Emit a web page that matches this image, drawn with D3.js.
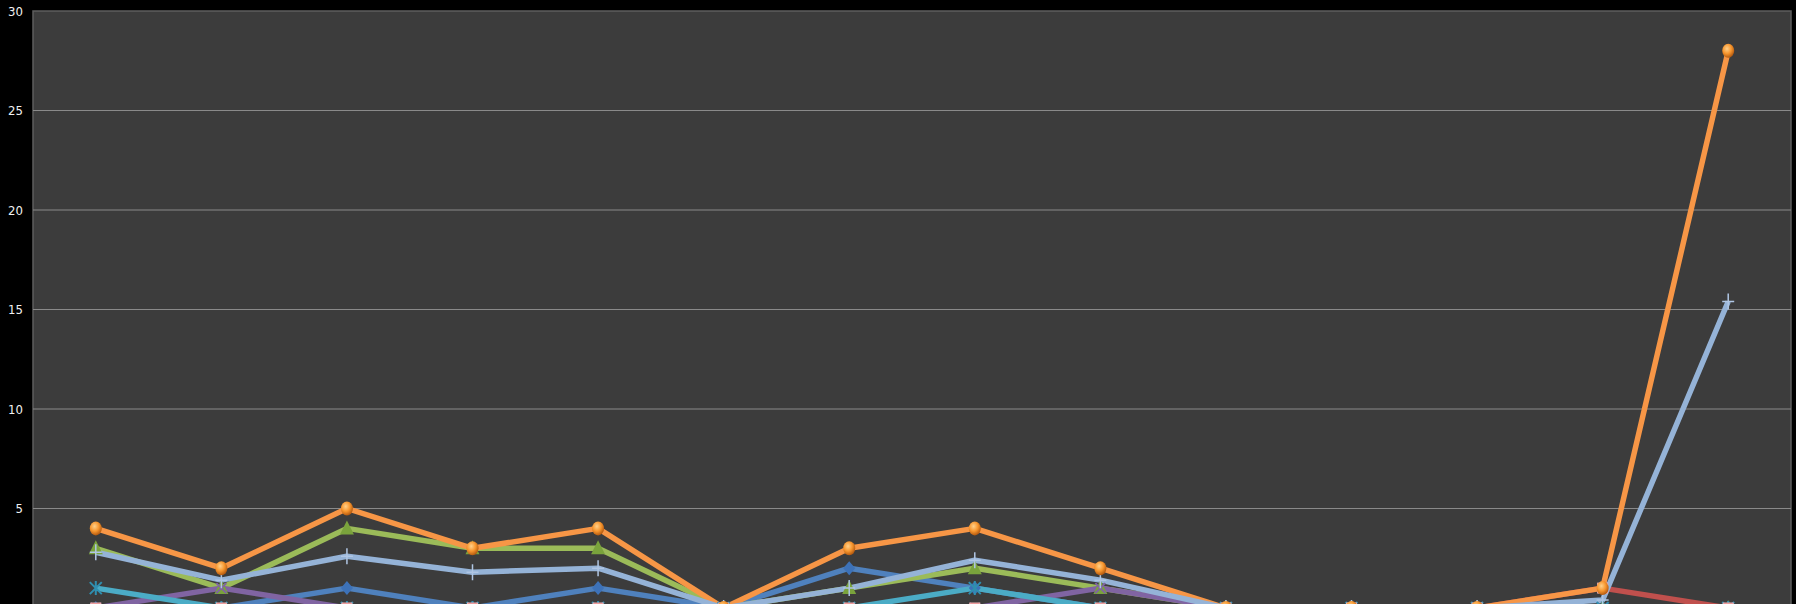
<!DOCTYPE html>
<html>
<head>
<meta charset="utf-8">
<script src="https://cdn.jsdelivr.net/npm/d3@7"></script>
<style>
  body { margin: 0; background: #000; }
  svg { display: block; }
</style>
</head>
<body>
<script>
// DATA
var categories = ["1","2","3","4","5","6","7","8","9","10","11","12","13","14"];
var y_ticks = [0, 5, 10, 15, 20, 25, 30];

var blue_values      = [0, 0, 1, 0, 1, 0, 2, 1, 0, 0, 0, 0, 0, 0];
var red_values       = [0, 0, 0, 0, 0, 0, 0, 0, 0, 0, 0, 0, 1, 0];
var green_values     = [3, 1, 4, 3, 3, 0, 1, 2, 1, 0, 0, 0, 0, 0];
var purple_values    = [0, 1, 0, 0, 0, 0, 0, 0, 1, 0, 0, 0, 0, 0];
var cyan_values      = [1, 0, 0, 0, 0, 0, 0, 1, 0, 0, 0, 0, 0, 0];
var orange_values    = [4, 2, 5, 3, 4, 0, 3, 4, 2, 0, 0, 0, 1, 28];
var lightblue_values = [2.8, 1.4, 2.6, 1.8, 2.0, 0, 1.0, 2.4, 1.4, 0, 0, 0, 0.4, 15.4];

var series = [
  {"name":"blue",      "values":blue_values,      "color":"#4f81bd", "marker":"diamond",  "z":1},
  {"name":"red",       "values":red_values,       "color":"#c0504d", "marker":"square",   "z":6},
  {"name":"green",     "values":green_values,     "color":"#9bbb59", "marker":"triangle", "z":2},
  {"name":"purple",    "values":purple_values,    "color":"#8064a2", "marker":"cross",    "z":3},
  {"name":"cyan",      "values":cyan_values,      "color":"#4bacc6", "marker":"star",     "z":4},
  {"name":"orange",    "values":orange_values,    "color":"#f79646", "marker":"circle",   "z":7},
  {"name":"lightblue", "values":lightblue_values, "color":"#95b3d7", "marker":"plus",     "z":5}
];

// SETUP
var width = 1796, height = 604;
var plot = {"left":33, "right":1791, "top":11, "bottom":608};

var svg = d3.select("body").append("svg")
  .attr("width", width)
  .attr("height", height);

var defs = svg.append("defs");
var grad = defs.append("radialGradient").attr("id","orange_ball")
  .attr("cx","40%").attr("cy","35%").attr("r","65%");
grad.append("stop").attr("offset","0%").attr("stop-color","#ffd08a");
grad.append("stop").attr("offset","55%").attr("stop-color","#f7962e");
grad.append("stop").attr("offset","100%").attr("stop-color","#b45a10");

var x = d3.scaleBand().domain(categories).range([plot.left, plot.right]).padding(0);
var y = d3.scaleLinear().domain([0, 30]).range([plot.bottom, plot.top]);
var cx = function(c){ return x(c) + x.bandwidth()/2; };

// plot area
svg.append("rect")
  .attr("x", plot.left).attr("y", plot.top)
  .attr("width", plot.right - plot.left)
  .attr("height", plot.bottom - plot.top)
  .attr("fill", "#3c3c3c")
  .attr("stroke", "#5e5e5e")
  .attr("stroke-width", 1.5);

// gridlines
svg.append("g").selectAll("line")
  .data(y_ticks.filter(function(t){ return t > 0 && t < 30; }))
  .enter().append("line")
  .attr("x1", plot.left).attr("x2", plot.right)
  .attr("y1", function(d){ return y(d); })
  .attr("y2", function(d){ return y(d); })
  .attr("stroke", "#8a8a8a")
  .attr("stroke-width", 1);

// y axis
var y_axis = svg.append("g")
  .attr("transform", "translate(" + (plot.left - 10) + ",0)")
  .call(d3.axisLeft(y).tickValues(y_ticks).tickSize(0).tickPadding(0));
y_axis.select(".domain").remove();
y_axis.selectAll("text")
  .attr("fill", "#f0f0f0")
  .style("font-family", "'Liberation Sans Narrow', 'DejaVu Sans Condensed', sans-serif")
  .style("font-size", "13px");

// lines
var line = d3.line()
  .x(function(d, i){ return cx(categories[i]); })
  .y(function(d){ return y(d); });

svg.append("g").selectAll("path")
  .data(series)
  .enter().append("path")
  .attr("d", function(s){ return line(s.values); })
  .attr("fill", "none")
  .attr("stroke", function(s){ return s.color; })
  .attr("stroke-width", 5.5)
  .attr("stroke-linejoin", "round");

// markers (red and orange on top, as in the picture)
var marker_group = svg.append("g");
series.slice().sort(function(a, b){ return a.z - b.z; }).forEach(function(s){
  var g = marker_group.append("g");
  var pts = g.selectAll("g").data(s.values).enter().append("g")
    .attr("transform", function(d, i){ return "translate(" + cx(categories[i]) + "," + y(d) + ")"; });
  if (s.marker == "circle") {
    pts.append("ellipse").attr("rx", 6).attr("ry", 7).attr("fill", "url(#orange_ball)");
  } else if (s.marker == "diamond") {
    pts.append("path").attr("d", "M0,-7L6,0L0,7L-6,0Z").attr("fill", "#3d72b8");
  } else if (s.marker == "square") {
    pts.append("rect").attr("x", -5).attr("y", -5).attr("width", 10).attr("height", 10)
      .attr("fill", "#e8878a").attr("stroke", "#f2b0b0").attr("stroke-width", 1);
  } else if (s.marker == "triangle") {
    pts.append("path").attr("d", "M0,-8L7,6L-7,6Z").attr("fill", "#7aa33c");
  } else if (s.marker == "cross") {
    pts.append("path").attr("d", "M-5,-5L5,5M5,-5L-5,5").attr("stroke", "#8064a2").attr("stroke-width", 2);
  } else if (s.marker == "star") {
    pts.append("path").attr("d", "M-6,-6L6,6M6,-6L-6,6M0,-7L0,7")
      .attr("stroke", "#2f8fb0").attr("stroke-width", 2);
  } else if (s.marker == "plus") {
    pts.append("path").attr("d", "M-6,0L6,0M0,-8L0,8")
      .attr("stroke", "#b0c6e4").attr("stroke-width", 1.5);
  }
});
</script>
</body>
</html>
